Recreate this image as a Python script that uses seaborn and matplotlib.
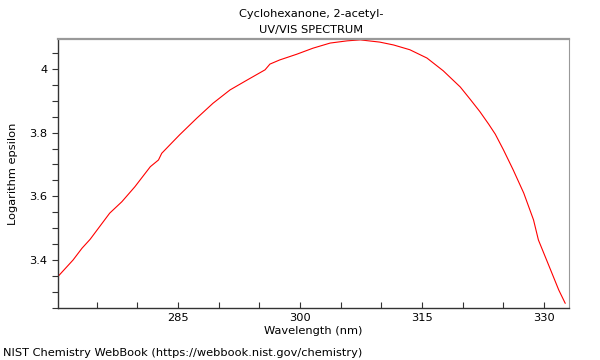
import numpy as np
import pandas as pd
import matplotlib
matplotlib.use("Agg")
import matplotlib.pyplot as plt
import seaborn as sns
from matplotlib.ticker import MultipleLocator

# spectrum
wavelength = [270.2, 272.1, 273.2, 274.2, 276.6, 278.1, 279.7, 281.6, 282.6, 283.0,
              284.4, 285.2, 287.3, 289.3, 291.4, 293.5, 295.7, 296.3, 297.5, 299.6,
              301.6, 303.7, 305.8, 307.4, 309.8, 311.5, 313.5, 315.6, 317.6, 319.7,
              320.9, 322.1, 323.2, 324.0, 325.0, 326.2, 327.5, 328.7, 329.3, 330.8,
              331.8, 332.6]
log_eps = [3.347, 3.400, 3.437, 3.465, 3.547, 3.583, 3.630, 3.693, 3.714, 3.735,
           3.772, 3.793, 3.845, 3.892, 3.934, 3.965, 3.997, 4.015, 4.028, 4.046,
           4.065, 4.081, 4.088, 4.091, 4.084, 4.075, 4.060, 4.034, 3.994, 3.943,
           3.905, 3.866, 3.826, 3.795, 3.746, 3.683, 3.610, 3.526, 3.463, 3.369,
           3.306, 3.264]
yticks = [3.4, 3.6, 3.8, 4.0]
ytick_labels = ["3.4", "3.6", "3.8", "4"]
xticks = [285, 300, 315, 330]
title_lines = ["Cyclohexanone, 2-acetyl-", "UV/VIS SPECTRUM"]

df = pd.DataFrame({"Wavelength": wavelength, "LogEps": log_eps})

sns.set_style("white")
plt.rcParams["font.family"] = ["DejaVu Sans"]
plt.rcParams["text.color"] = "black"
plt.rcParams["axes.labelcolor"] = "black"

fig = plt.figure(figsize=(6, 3.6), dpi=100)
ax = fig.add_axes([0.096, 0.145, 0.8515, 0.746])

sns.lineplot(data=df, x="Wavelength", y="LogEps", color="#ff0000", linewidth=0.8, ax=ax)

ax.set_xlim(270.2, 333.0)
ax.set_ylim(3.25, 4.093)
ax.set_xticks(xticks)
ax.xaxis.set_minor_locator(MultipleLocator(5))
ax.set_yticks(yticks)
ax.set_yticklabels(ytick_labels)
ax.yaxis.set_minor_locator(MultipleLocator(0.05))

ax.tick_params(axis="x", which="both", direction="in", length=4, width=0.8,
               bottom=True, labelsize=8.2, color="#333333", labelcolor="black", pad=4)
ax.tick_params(axis="y", which="both", direction="out", length=4, width=0.8,
               left=True, labelsize=8.2, color="#333333", labelcolor="black")

for s in ["left", "bottom"]:
    ax.spines[s].set_color("#333333")
    ax.spines[s].set_linewidth(1.0)
ax.spines["top"].set_color("#999999")
ax.spines["top"].set_linewidth(1.6)
ax.spines["right"].set_color("#999999")
ax.spines["right"].set_linewidth(0.8)

ax.set_xlabel("Wavelength (nm)", fontsize=8.2, labelpad=2)
ax.set_ylabel("Logarithm epsilon", fontsize=8.2, labelpad=8)

# title as two lines, like the reference
fig.text(0.519, 0.962, title_lines[0], fontsize=8.2, ha="center", va="center")
fig.text(0.519, 0.916, title_lines[1], fontsize=8.2, ha="center", va="center")

fig.text(0.005, 0.012, "NIST Chemistry WebBook (https://webbook.nist.gov/chemistry)", fontsize=8.2)

fig.savefig("out.png", dpi=100)
